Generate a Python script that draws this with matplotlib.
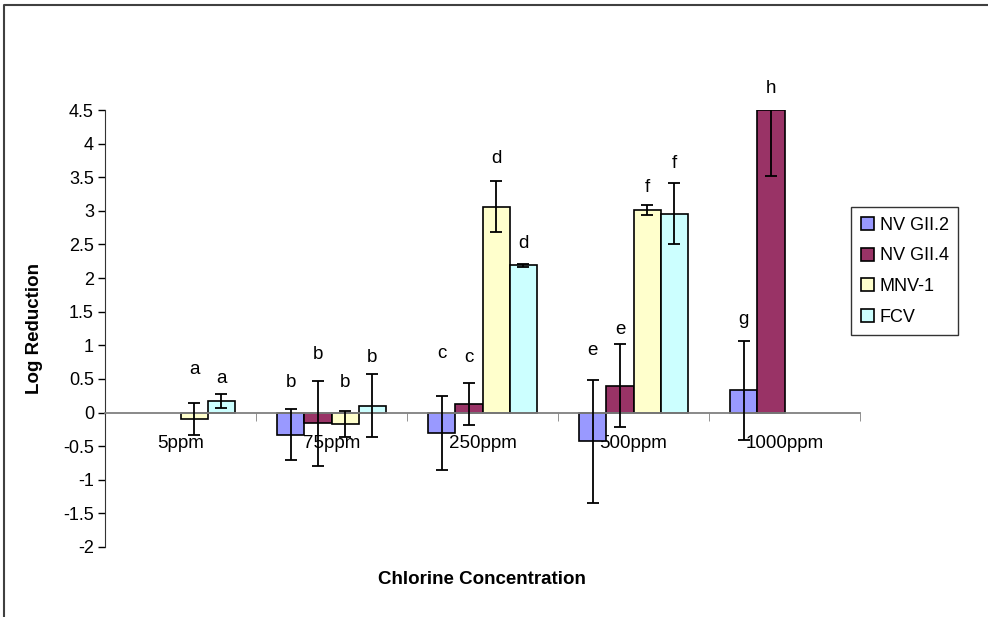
import numpy as np
import matplotlib
matplotlib.use('Agg')
import matplotlib.pyplot as plt
from matplotlib.lines import Line2D

# dados
categorias = ['5ppm', '75ppm', '250ppm', '500ppm', '1000ppm']
series = ['NV GII.2', 'NV GII.4', 'MNV-1', 'FCV']
cores = ['#9999FF', '#993366', '#FFFFCC', '#CCFFFF']

nv_gii2 = [np.nan, -0.33, -0.31, -0.43, 0.33]
nv_gii4 = [np.nan, -0.16, 0.13, 0.40, 4.50]
mnv1 = [-0.10, -0.17, 3.06, 3.01, np.nan]
fcv = [0.17, 0.10, 2.19, 2.96, np.nan]

err_gii2 = [np.nan, 0.38, 0.55, 0.92, 0.74]
err_gii4 = [np.nan, 0.63, 0.31, 0.62, 0.98]
err_mnv1 = [0.24, 0.20, 0.38, 0.07, np.nan]
err_fcv = [0.10, 0.47, 0.02, 0.45, np.nan]

letras_gii2 = ['', 'b', 'c', 'e', 'g']
letras_gii4 = ['', 'b', 'c', 'e', 'h']
letras_mnv1 = ['a', 'b', 'd', 'f', '']
letras_fcv = ['a', 'b', 'd', 'f', '']

altura_gii2 = [np.nan, 0.45, 0.88, 0.92, 1.39]
altura_gii4 = [np.nan, 0.86, 0.82, 1.23, 4.82]
altura_mnv1 = [0.64, 0.45, 3.78, 3.34, np.nan]
altura_fcv = [0.50, 0.82, 2.51, 3.71, np.nan]

valores = [nv_gii2, nv_gii4, mnv1, fcv]
erros = [err_gii2, err_gii4, err_mnv1, err_fcv]
letras = [letras_gii2, letras_gii4, letras_mnv1, letras_fcv]
alturas = [altura_gii2, altura_gii4, altura_mnv1, altura_fcv]

plt.rcParams['font.family'] = ['Liberation Sans', 'DejaVu Sans']
plt.rcParams['axes.unicode_minus'] = False

fig = plt.figure(figsize=(9.88, 6.17), dpi=100)
ax = fig.add_axes([0.1063, 0.1135, 0.7642, 0.7082])

x = np.arange(len(categorias))
w = 0.18
for j in range(len(series)):
    pos = x + (j - 1.5) * w
    ax.bar(pos, valores[j], w, color=cores[j], edgecolor='black', linewidth=1.2,
           label=series[j], zorder=2)
    ax.errorbar(pos, valores[j], yerr=erros[j], fmt='none', ecolor='black',
                elinewidth=1.3, capsize=4.5, capthick=1.3, zorder=3)
    for k in range(len(categorias)):
        if letras[j][k]:
            ax.text(pos[k], alturas[j][k], letras[j][k], ha='center', va='center',
                    fontsize=13.5)

ax.set_xlim(-0.5, 4.5)
ax.set_ylim(-2, 4.5)
ax.set_yticks(np.arange(-2, 4.51, 0.5))
ax.set_yticklabels(['{:g}'.format(v) for v in np.arange(-2, 4.51, 0.5)], fontsize=13)
ax.tick_params(axis='y', direction='out', length=5, width=1, pad=3)

ax.spines['top'].set_visible(False)
ax.spines['right'].set_visible(False)
ax.spines['bottom'].set_position(('data', 0))
ax.spines['bottom'].set_color('#808080')
ax.spines['bottom'].set_linewidth(1.3)
ax.spines['left'].set_color('#333333')

ax.set_xticks(x)
ax.set_xticklabels(categorias, fontsize=13.5)
ax.set_xticks(np.arange(-0.5, 4.6, 1), minor=True)
ax.tick_params(axis='x', which='major', length=0, pad=16)
ax.tick_params(axis='x', which='minor', direction='out', length=6, color='#808080')

ax.set_ylabel('Log Reduction', fontsize=13.5, fontweight='bold')
ax.yaxis.set_label_coords(-0.082, 0.5)
fig.text(482 / 988, 1 - 580 / 617, 'Chlorine Concentration', ha='center', va='center',
         fontsize=13.5, fontweight='bold')

leg = ax.legend(loc='upper left', bbox_to_anchor=(0.861, 0.6645),
                bbox_transform=fig.transFigure, fontsize=13, frameon=True,
                fancybox=False, edgecolor='black', handlelength=0.75,
                handleheight=0.75, handletextpad=0.3, labelspacing=0.75,
                borderpad=0.55, borderaxespad=0)
leg.get_frame().set_linewidth(1)

# moldura externa
fig.add_artist(Line2D([4 / 988, 4 / 988, 1], [0, 1 - 5 / 617, 1 - 5 / 617],
                      transform=fig.transFigure, color='#404040', linewidth=1.5))

fig.savefig('out.png', dpi=100)
